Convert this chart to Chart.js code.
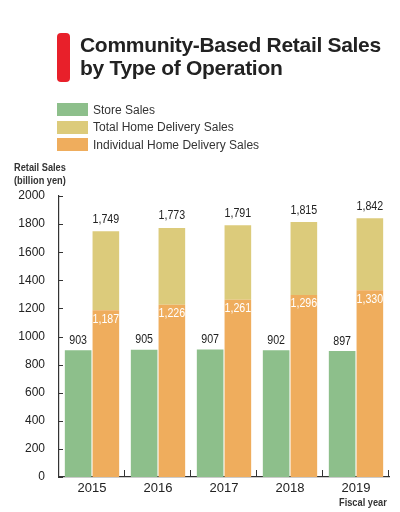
<!DOCTYPE html>
<html>
<head>
<meta charset="utf-8">
<script src="https://cdn.jsdelivr.net/npm/chart.js@4/dist/chart.umd.min.js"></script>
<style>
  body { margin:0; background:#fff; font-family:"Liberation Sans", Arial, sans-serif; }
  #wrap { position:relative; width:400px; height:512px; overflow:hidden; }
  #chart { position:absolute; left:0; top:0; }
  .redbar { position:absolute; left:57px; top:33px; width:13px; height:49px; background:#e8202a; border-radius:4px; }
  .title { position:absolute; left:80px; top:33px; font-weight:bold; font-size:21px; line-height:23px; color:#222; letter-spacing:-0.3px; }
  .legend { position:absolute; left:57px; top:101px; font-size:12px; color:#333; }
  .legend div { height:17.5px; display:flex; align-items:center; }
  .legend span.box { display:inline-block; width:31px; height:13px; margin-right:5px; }
  .narrow { position:absolute; font-weight:bold; font-size:11px; color:#333; line-height:13px; transform:scaleX(0.84); transform-origin:left top; white-space:nowrap; }
</style>
</head>
<body>
<div id="wrap">
  <canvas id="chart" width="400" height="512"></canvas>
  <div class="redbar"></div>
  <div class="title">Community-Based Retail Sales<br>by Type of Operation</div>
  <div class="legend" id="legend"></div>
  <div class="narrow" style="left:14px;top:161px;">Retail Sales<br>(billion yen)</div>
  <div class="narrow" style="left:339px;top:496px;">Fiscal year</div>
</div>
<script>
// data
const years = ['2015', '2016', '2017', '2018', '2019'];
const storeSales = [903, 905, 907, 902, 897];
const individualHome = [1187, 1226, 1261, 1296, 1330];
const totalHome = [1749, 1773, 1791, 1815, 1842];
const yTicks = [0, 200, 400, 600, 800, 1000, 1200, 1400, 1600, 1800, 2000];

const GREEN = '#8dbf8b', KHAKI = '#dccb7b', ORANGE = '#efad5d';

// legend (html)
const legendItems = [['Store Sales', GREEN], ['Total Home Delivery Sales', KHAKI], ['Individual Home Delivery Sales', ORANGE]];
document.getElementById('legend').innerHTML = legendItems
  .map(([t, c]) => `<div><span class="box" style="background:${c}"></span>${t}</div>`).join('');

const fmt = v => v.toLocaleString('en-US');

// condensed text helper
function narrowText(ctx, txt, x, y) {
  ctx.save();
  ctx.translate(x, y);
  ctx.scale(0.82, 1);
  ctx.fillText(txt, 0, 0);
  ctx.restore();
}

// value labels + small inward ticks
const extras = {
  id: 'extras',
  afterDatasetsDraw(chart) {
    const ctx = chart.ctx;
    ctx.save();
    ctx.font = '13px "Liberation Sans", Arial, sans-serif';
    ctx.textAlign = 'center';
    ctx.textBaseline = 'middle';
    chart.getDatasetMeta(0).data.forEach((b, i) => {
      ctx.fillStyle = '#222';
      narrowText(ctx, fmt(storeSales[i]), b.x, b.y - 10);
    });
    chart.getDatasetMeta(1).data.forEach((b, i) => {
      ctx.fillStyle = '#fff';
      narrowText(ctx, fmt(individualHome[i]), b.x, b.y + 9);
    });
    chart.getDatasetMeta(2).data.forEach((b, i) => {
      ctx.fillStyle = '#222';
      narrowText(ctx, fmt(totalHome[i]), b.x, b.y - 12);
    });
    // ticks
    const y = chart.scales.y, a = chart.chartArea;
    ctx.strokeStyle = '#333';
    ctx.lineWidth = 1;
    ctx.beginPath();
    yTicks.forEach(v => {
      const py = Math.round(y.getPixelForValue(v)) + 0.5;
      ctx.moveTo(a.left, py); ctx.lineTo(a.left + 4, py);
    });
    const w = (a.right - a.left) / years.length;
    for (let i = 1; i <= years.length; i++) {
      const px = Math.round(a.left + i * w) - 0.5;
      ctx.moveTo(px, a.bottom); ctx.lineTo(px, a.bottom - 7);
    }
    ctx.stroke();
    ctx.restore();
  }
};

new Chart(document.getElementById('chart'), {
  type: 'bar',
  data: {
    labels: years,
    datasets: [
      { label: 'Store Sales', data: storeSales, backgroundColor: GREEN, stack: 's' },
      { label: 'Individual Home Delivery Sales', data: individualHome, backgroundColor: ORANGE, stack: 'h' },
      { label: 'Total Home Delivery Sales', data: totalHome.map((t, i) => t - individualHome[i]), backgroundColor: KHAKI, stack: 'h' }
    ]
  },
  options: {
    responsive: false,
    animation: false,
    categoryPercentage: 0.84,
    barPercentage: 0.96,
    layout: { padding: { top: 196, right: 11, left: 0, bottom: 0 } },
    plugins: { legend: { display: false }, tooltip: { enabled: false } },
    scales: {
      x: {
        stacked: true,
        grid: { display: false },
        border: { color: '#333', width: 1.2 },
        ticks: { color: '#222', font: { size: 13, family: '"Liberation Sans", Arial, sans-serif' }, padding: -4 },
        afterFit: s => { s.height = 35; }
      },
      y: {
        stacked: true,
        min: 0, max: 2000,
        grid: { display: false },
        border: { color: '#333', width: 1.2 },
        ticks: { stepSize: 200, color: '#222', padding: 6, callback: v => String(v),
                 font: { size: 12, family: '"Liberation Sans", Arial, sans-serif' } },
        afterFit: s => { s.width = 59; }
      }
    }
  },
  plugins: [extras]
});
</script>
</body>
</html>
